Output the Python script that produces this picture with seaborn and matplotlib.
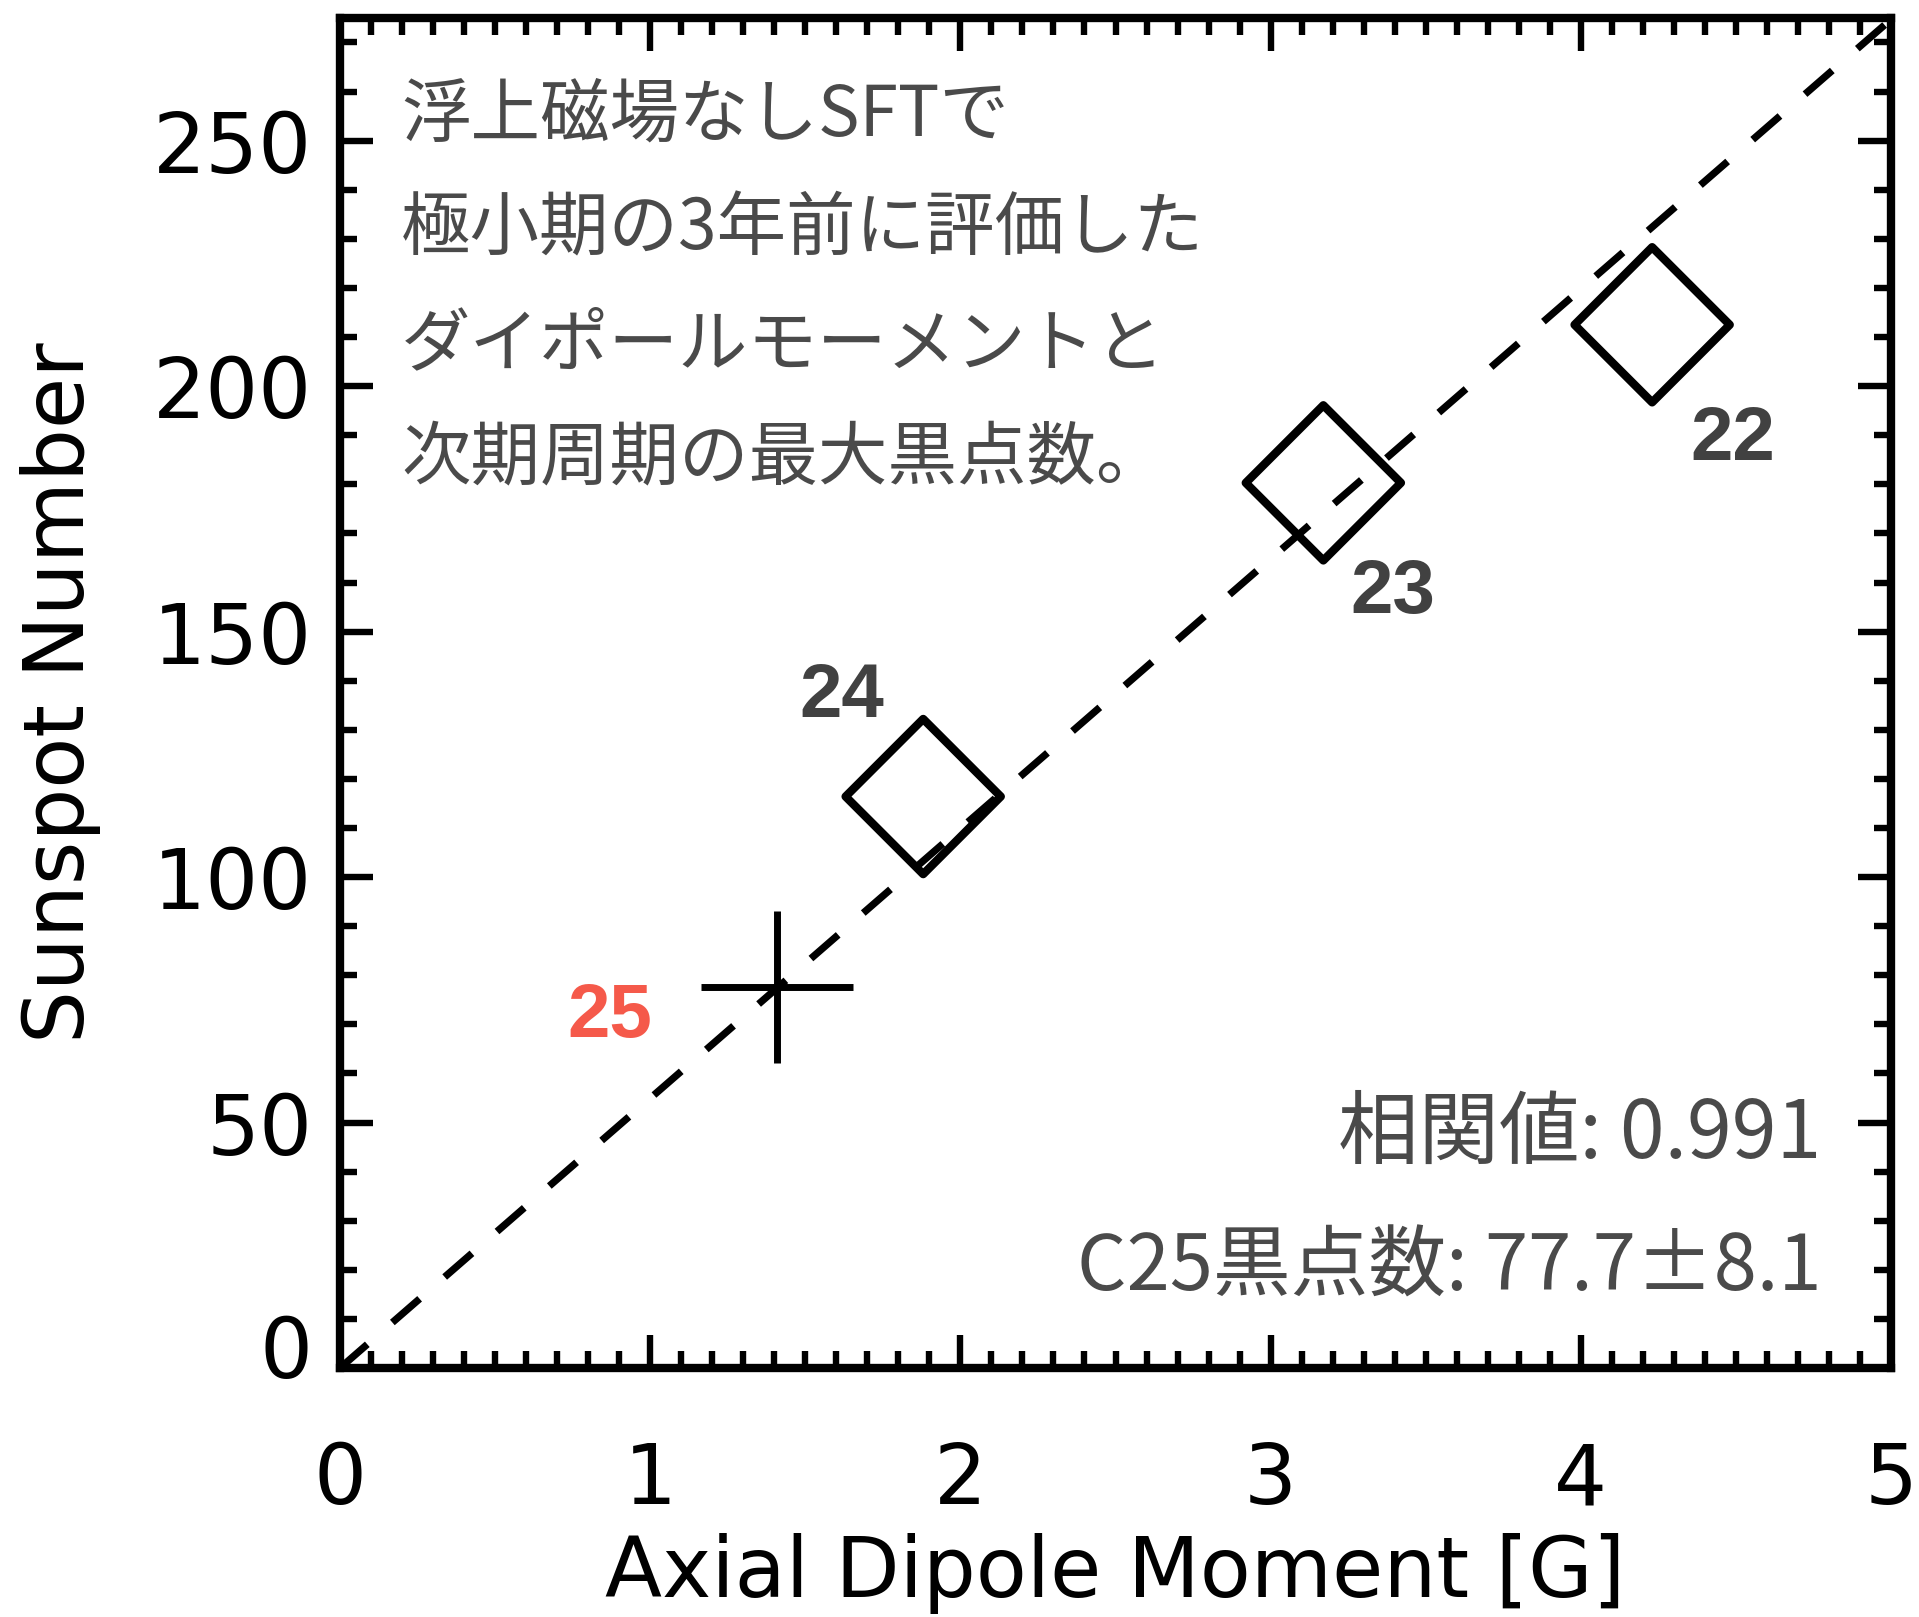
import matplotlib
matplotlib.use("Agg")
import matplotlib.pyplot as plt
import matplotlib.transforms as mtransforms
from matplotlib.ticker import MultipleLocator
import seaborn as sns

# Solar cycles 22-24: axial dipole moment vs. next-cycle maximum sunspot number
cycles_past = ["22", "23", "24"]
dipole_past = [4.23, 3.17, 1.88]
ssn_past = [212.5, 180.3, 116.4]

# Cycle 25 prediction
cycle_pred = "25"
dipole_pred = [1.41]
ssn_pred = [77.7]

# Fitted relation (through the origin)
fit_x = [0.0, 5.0]
fit_y = [0.0, 274.7]

note_lines = ["浮上磁場なしSFTで", "極小期の3年前に評価した",
              "ダイポールモーメントと", "次期周期の最大黒点数。"]
corr_text = "相関値: 0.991"
pred_text = "C25黒点数: 77.7±8.1"

xlabel = "Axial Dipole Moment [G]"
ylabel = "Sunspot Number"

sns.set_theme(style="white")
plt.rcParams["font.family"] = ["DejaVu Sans"]
plt.rcParams["text.color"] = "black"
plt.rcParams["axes.labelcolor"] = "black"
plt.rcParams["xtick.color"] = "black"
plt.rcParams["ytick.color"] = "black"
cjk = ["Noto Sans CJK JP", "DejaVu Sans"]

fig = plt.figure(figsize=(19.19, 16.17), dpi=100)
ax = fig.add_axes([0.1772, 0.1540, 0.8082, 0.8349])

# dashed regression line
sns.lineplot(x=fit_x, y=fit_y, color="black", linewidth=5.2, ax=ax, zorder=2)
ax.lines[-1].set_dashes((5, 4.6))

# past cycles: open diamonds
sns.scatterplot(x=dipole_past, y=ssn_past, marker="D", s=79 ** 2, ax=ax, zorder=3)
coll = ax.collections[-1]
coll.set_facecolor("none")
coll.set_edgecolor("black")
coll.set_linewidth(6)

# prediction: plus symbol
sns.scatterplot(x=dipole_pred, y=ssn_pred, marker="+", s=110 ** 2,
                color="black", linewidth=5, ax=ax, zorder=3)

# cycle labels
label_offsets = [(58, -83), (50, -80), (-59, 71)]
for name, x, y, off in zip(cycles_past, dipole_past, ssn_past, label_offsets):
    ax.annotate(name, xy=(x, y), xytext=off, textcoords="offset points",
                ha="center", va="center", fontsize=55, fontweight="bold",
                family="Liberation Sans", color="#414141")
ax.annotate(cycle_pred, xy=(dipole_pred[0], ssn_pred[0]), xytext=(-121, -22),
            textcoords="offset points", ha="center", va="center", fontsize=55,
            fontweight="bold", family="Liberation Sans", color="#F5594A")

# annotation text
note_y = [0.9274, 0.8430, 0.7570, 0.6733]
for line, yy in zip(note_lines, note_y):
    ax.text(0.0393, yy, line, transform=ax.transAxes, ha="left", va="center",
            fontsize=50, family=cjk, color="#4a4a4a")
ax.text(0.9549, 0.1726, corr_text, transform=ax.transAxes, ha="right",
        va="center", fontsize=58, family=cjk, color="#4a4a4a")
ax.text(0.9549, 0.0733, pred_text, transform=ax.transAxes, ha="right",
        va="center", fontsize=56, family=cjk, color="#4a4a4a")

# axes limits and ticks
ax.set_xlim(0, 5)
ax.set_ylim(0, 275)
ax.xaxis.set_major_locator(MultipleLocator(1))
ax.xaxis.set_minor_locator(MultipleLocator(0.1))
ax.yaxis.set_major_locator(MultipleLocator(50))
ax.yaxis.set_minor_locator(MultipleLocator(10))
ax.tick_params(which="both", direction="in", top=True, right=True,
               bottom=True, left=True, color="black", labelcolor="black")
ax.tick_params(which="major", length=24, width=4.6)
ax.tick_params(which="minor", length=12, width=4.6)
ax.tick_params(axis="x", which="major", pad=52, labelsize=60)
ax.tick_params(axis="y", which="major", pad=20, labelsize=60)
for sp in ax.spines.values():
    sp.set_linewidth(6)
    sp.set_color("black")
    sp.set_visible(True)

ax.set_xlabel(xlabel, fontsize=60, color="black")
ax.set_ylabel(ylabel, fontsize=60, color="black")
ax.xaxis.set_label_coords(0.5, -0.122)
ax.yaxis.set_label_coords(-0.154, 0.5)

# lift the "0" label on the y axis slightly
fig.canvas.draw()
for lab in ax.get_yticklabels():
    if lab.get_text() in ("0", "−0"):
        lab.set_transform(lab.get_transform() +
                          mtransforms.ScaledTranslation(0, 22 / 100, fig.dpi_scale_trans))

fig.savefig("out.png", dpi=100, facecolor="white")
